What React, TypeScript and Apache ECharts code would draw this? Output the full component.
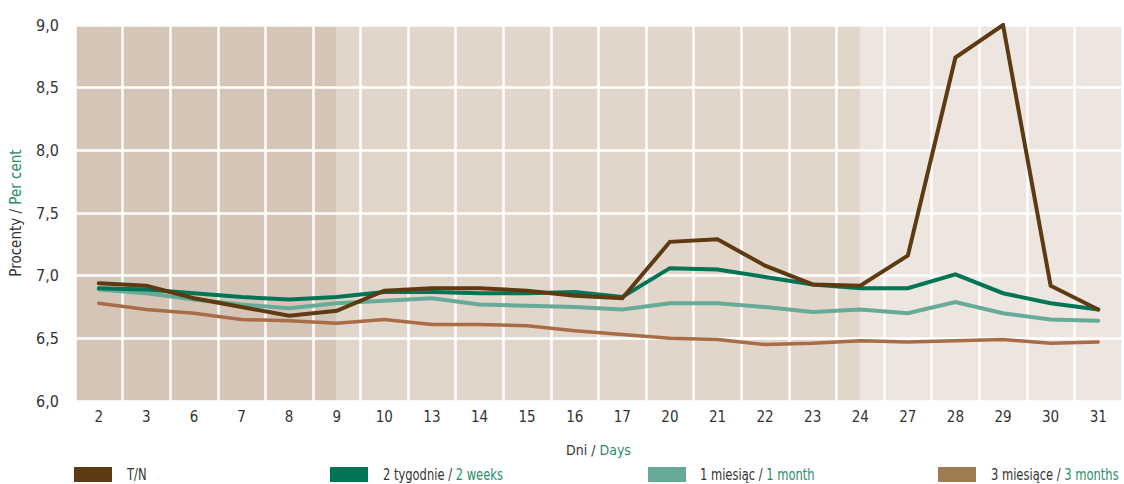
import React, { useEffect, useRef } from "react";
import * as echarts from "echarts";

const days = ["2", "3", "6", "7", "8", "9", "10", "13", "14", "15", "16", "17", "20", "21", "22", "23", "24", "27", "28", "29", "30", "31"];
const tn = [6.94, 6.92, 6.82, 6.75, 6.68, 6.72, 6.88, 6.9, 6.9, 6.88, 6.84, 6.82, 7.27, 7.29, 7.08, 6.93, 6.92, 7.16, 8.74, 9.0, 6.92, 6.73];
const weeks2 = [6.9, 6.89, 6.86, 6.83, 6.81, 6.83, 6.87, 6.87, 6.86, 6.86, 6.87, 6.83, 7.06, 7.05, 6.99, 6.93, 6.9, 6.9, 7.01, 6.86, 6.78, 6.73];
const month1 = [6.89, 6.86, 6.81, 6.77, 6.74, 6.78, 6.8, 6.82, 6.77, 6.76, 6.75, 6.73, 6.78, 6.78, 6.75, 6.71, 6.73, 6.7, 6.79, 6.7, 6.65, 6.64];
const months3 = [6.78, 6.73, 6.7, 6.65, 6.64, 6.62, 6.65, 6.61, 6.61, 6.6, 6.56, 6.53, 6.5, 6.49, 6.45, 6.46, 6.48, 6.47, 6.48, 6.49, 6.46, 6.47];
// background bands: from-index, to-index on category positions
const bands = [
  { from: -0.5, to: 5, color: "#d5c5b7" },
  { from: 5, to: 16, color: "#e2d6ca" },
  { from: 16, to: 21.5, color: "#ede6e0" },
];
const legendItems = [
  { pl: "T/N", en: "", color: "#5e3a12" },
  { pl: "2 tygodnie / ", en: "2 weeks", color: "#007556" },
  { pl: "1 miesiąc / ", en: "1 month", color: "#66a998" },
  { pl: "3 miesiące / ", en: "3 months", color: "#a07a50" },
];

const FONT = "'Liberation Sans Narrow', 'DejaVu Sans Condensed', sans-serif";
const DARK = "#333333";
const GREEN = "#2a8c6a";

export default function App() {
  const ref = useRef<HTMLDivElement>(null);
  useEffect(() => {
    if (!ref.current) return;
    const chart = echarts.init(ref.current, undefined, { renderer: "svg" });
    const boxX = [74, 330, 648, 938];
    const textX = [127, 383, 700, 991];
    const lineSeries = [
      { name: "T/N", data: tn, color: "#5e3a12", width: 4 },
      { name: "2 weeks", data: weeks2, color: "#007556", width: 4 },
      { name: "1 month", data: month1, color: "#66aa98", width: 4 },
      { name: "3 months", data: months3, color: "#a86d47", width: 3.5 },
    ].reverse();
    chart.setOption({
      animation: false,
      textStyle: { fontFamily: FONT },
      grid: { left: 73, right: 2, top: 25, bottom: 83 },
      xAxis: [
        {
          type: "category",
          data: days,
          z: 3,
          axisLine: { show: false },
          axisTick: { show: false },
          axisLabel: { color: DARK, fontSize: 15, margin: 8, fontFamily: FONT },
          splitLine: { show: true, lineStyle: { color: "#ffffff", width: 2.5 } },
          name: "{a|Dni / }{b|Days}",
          nameLocation: "middle",
          nameGap: 42,
          nameTextStyle: {
            fontFamily: FONT,
            rich: {
              a: { color: DARK, fontSize: 14, fontFamily: FONT },
              b: { color: GREEN, fontSize: 14, fontFamily: FONT },
            },
          },
        },
        { type: "value", min: -0.5, max: 21.5, show: false },
      ],
      yAxis: {
        type: "value",
        min: 6,
        max: 9,
        interval: 0.5,
        z: 3,
        axisLine: { show: false },
        axisTick: { show: false },
        axisLabel: {
          color: DARK,
          fontSize: 16,
          margin: 16,
          fontFamily: FONT,
          formatter: (v: number) => v.toFixed(1).replace(".", ","),
        },
        splitLine: { show: true, lineStyle: { color: "#ffffff", width: 2.5 } },
        name: "{a|Procenty / }{b|Per cent}",
        nameLocation: "middle",
        nameGap: 52,
        nameRotate: 90,
        nameTextStyle: {
          fontFamily: FONT,
          rich: {
            a: { color: DARK, fontSize: 15, fontFamily: FONT },
            b: { color: GREEN, fontSize: 15, fontFamily: FONT },
          },
        },
      },
      series: [
        {
          type: "line",
          xAxisIndex: 1,
          z: 0,
          data: [],
          silent: true,
          markArea: {
            silent: true,
            z: 0,
            data: bands.map((b) => [
              { xAxis: b.from, itemStyle: { color: b.color } },
              { xAxis: b.to },
            ]),
          },
        },
        ...lineSeries.map((s) => ({
          type: "line",
          name: s.name,
          data: s.data,
          z: 5,
          symbol: "none",
          lineStyle: { color: s.color, width: s.width, cap: "round", join: "miter" },
          itemStyle: { color: s.color },
        })),
      ],
      graphic: legendItems.flatMap((it, i) => [
        {
          type: "rect",
          left: boxX[i],
          top: 467,
          shape: { width: 38, height: 15 },
          style: { fill: it.color },
        },
        {
          type: "text",
          x: textX[i],
          y: 466,
          scaleX: 0.8,
          style: {
            text: it.en ? `{a|${it.pl}}{b|${it.en}}` : `{a|${it.pl}}`,
            rich: {
              a: { fill: DARK, fontSize: 16, fontFamily: FONT },
              b: { fill: GREEN, fontSize: 16, fontFamily: FONT },
            },
          },
        },
      ]),
    });
    return () => chart.dispose();
  }, []);
  return <div ref={ref} style={{ width: 1124, height: 484, position: "absolute", left: 0, top: 0 }} />;
}
